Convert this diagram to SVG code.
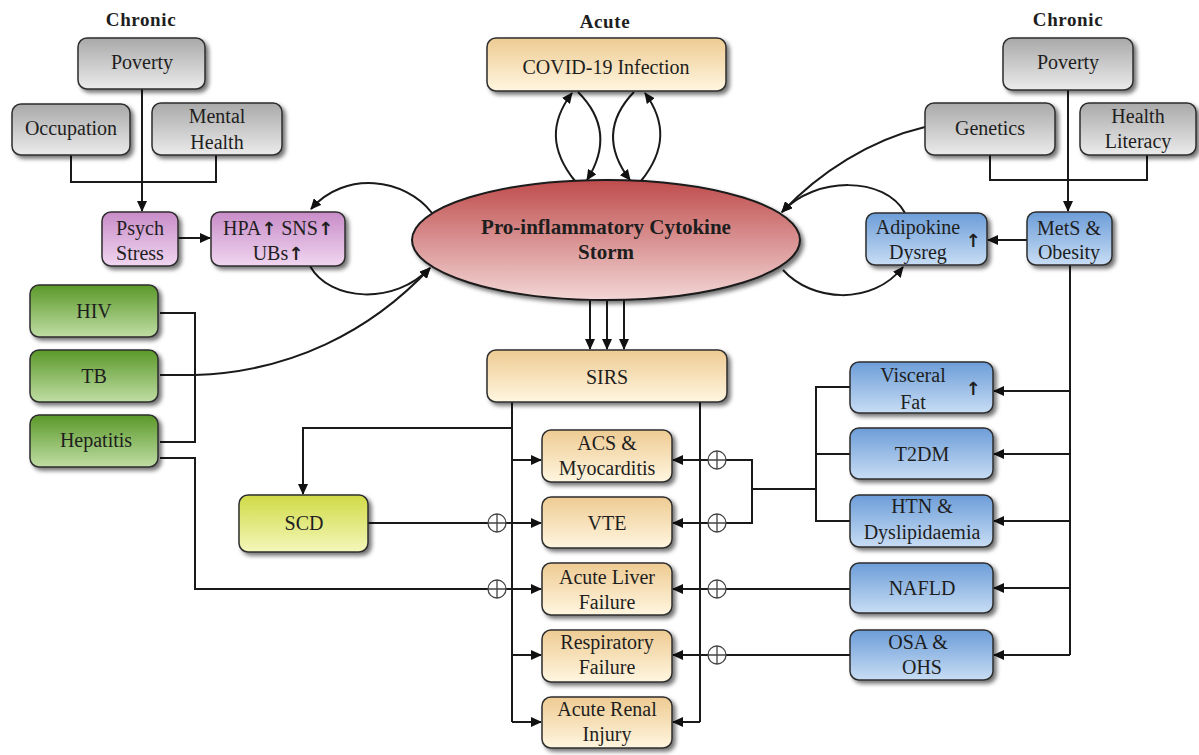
<svg xmlns="http://www.w3.org/2000/svg" width="1199" height="755" viewBox="0 0 1199 755">
<style>
text{font-family:"Liberation Serif","DejaVu Serif",serif;font-size:20px;fill:#1e1e1e;text-anchor:middle}
.up{font-family:"DejaVu Sans",sans-serif;font-weight:bold;font-size:18px}
.hd{font-weight:bold;font-size:19px;letter-spacing:0.6px}
.big{font-weight:bold;font-size:21px}
.box{stroke:#2e2e2e;stroke-width:1.5;filter:url(#sh)}
.ln{fill:none;stroke:#1a1a1a;stroke-width:2}
.ar{fill:none;stroke:#1a1a1a;stroke-width:2;marker-end:url(#ah)}
.pl{fill:#fff;stroke:#444;stroke-width:1.3}
.gray{fill:url(#gGray)}.pink{fill:url(#gPink)}.org{fill:url(#gOrg)}.blue{fill:url(#gBlue)}.grn{fill:url(#gGrn)}.yel{fill:url(#gYel)}
</style>
<defs>
<filter id="sh" x="-10%" y="-10%" width="130%" height="140%">
<feDropShadow dx="3" dy="3" stdDeviation="2" flood-color="#000" flood-opacity="0.55"/>
</filter>
<marker id="ah" markerUnits="userSpaceOnUse" markerWidth="11" markerHeight="10" refX="10" refY="5" orient="auto">
<path d="M0,0 L11,5 L0,10 z" fill="#111"/>
</marker>
<linearGradient id="gGray" x1="0" y1="0" x2="0" y2="1"><stop offset="0" stop-color="#a9a9a9"/><stop offset="1" stop-color="#ebebeb"/></linearGradient>
<linearGradient id="gPink" x1="0" y1="0" x2="0" y2="1"><stop offset="0" stop-color="#c88cc8"/><stop offset="1" stop-color="#f0d6f0"/></linearGradient>
<linearGradient id="gOrg" x1="0" y1="0" x2="0" y2="1"><stop offset="0" stop-color="#eecb92"/><stop offset="1" stop-color="#fff6e0"/></linearGradient>
<linearGradient id="gBlue" x1="0" y1="0" x2="0" y2="1"><stop offset="0" stop-color="#6c9dd8"/><stop offset="1" stop-color="#c8ddf4"/></linearGradient>
<linearGradient id="gGrn" x1="0" y1="0" x2="0" y2="1"><stop offset="0" stop-color="#5a9829"/><stop offset="1" stop-color="#c0dea4"/></linearGradient>
<linearGradient id="gYel" x1="0" y1="0" x2="0" y2="1"><stop offset="0" stop-color="#d0da46"/><stop offset="1" stop-color="#f4f7ba"/></linearGradient>
<linearGradient id="gRed" x1="0" y1="0" x2="0" y2="1"><stop offset="0" stop-color="#bf4c4c"/><stop offset="1" stop-color="#f3d6d6"/></linearGradient>
<g id="plus"><circle r="9" class="pl"/><path d="M-9,0 H9 M0,-9 V9" stroke="#444" stroke-width="1.3"/></g>
</defs>
<rect width="1199" height="755" fill="#fff"/>

<text class="hd" x="141" y="26">Chronic</text>
<text class="hd" x="605" y="28">Acute</text>
<text class="hd" x="1068" y="26">Chronic</text>

<g id="connectors">
<path class="ln" d="M71 155 V182 H216 V155"/>
<path class="ar" d="M142 89 V211"/>
<path class="ar" d="M178 238 H210"/>
<path class="ar" d="M432 213 C 405 178, 345 170, 311 209"/>
<path class="ar" d="M310 266 C 330 302, 395 305, 430 268"/>
<path class="ar" d="M160 375 H195 C 290 372, 370 332, 430 268"/>
<path class="ln" d="M160 313 H195 V442 H160"/>
<path class="ln" d="M160 458 H195 V589 H488"/>
<path class="ar" d="M575 181 C 550 150, 550 122, 572 93"/>
<path class="ar" d="M578 92 C 606 120, 606 150, 587 180"/>
<path class="ar" d="M634 92 C 607 120, 607 150, 630 180"/>
<path class="ar" d="M641 181 C 666 150, 666 122, 645 93"/>
<path class="ar" d="M590 300 V349"/>
<path class="ar" d="M607 300 V349"/>
<path class="ar" d="M624 300 V349"/>
<path class="ln" d="M512 402 V722"/>
<path class="ln" d="M700 402 V722"/>
<path class="ar" d="M512 460 H541"/>
<path class="ar" d="M506 523 H541"/>
<path class="ar" d="M506 589 H541"/>
<path class="ar" d="M512 655 H541"/>
<path class="ar" d="M512 722 H541"/>
<path class="ar" d="M708 460 H673"/>
<path class="ar" d="M708 523 H673"/>
<path class="ar" d="M708 589 H673"/>
<path class="ar" d="M708 655 H673"/>
<path class="ar" d="M700 722 H673"/>
<path class="ar" d="M512 428 H303 V494"/>
<path class="ln" d="M368 523 H488"/>
<path class="ln" d="M726 460 H752 V523 H726 M752 489 H816 M850 387 H816 V521 H850 M816 454 H850"/>
<path class="ln" d="M850 589 H726"/>
<path class="ln" d="M850 655 H726"/>
<path class="ln" d="M990 155 V180 H1147 V155"/>
<path class="ar" d="M1068 90 V211"/>
<path class="ar" d="M1027 240 H988"/>
<path class="ln" d="M1070 265 V655"/>
<path class="ar" d="M1070 391 H994"/>
<path class="ar" d="M1070 454 H994"/>
<path class="ar" d="M1070 521 H994"/>
<path class="ar" d="M1070 588 H994"/>
<path class="ar" d="M1070 655 H994"/>
<path class="ar" d="M925 127 C 870 140, 820 172, 782 212"/>
<path class="ar" d="M905 213 C 885 176, 815 176, 782 212"/>
<path class="ar" d="M783 270 C 812 302, 872 306, 903 267"/>
<use href="#plus" x="497" y="523"/>
<use href="#plus" x="497" y="589"/>
<use href="#plus" x="717" y="460"/>
<use href="#plus" x="717" y="523"/>
<use href="#plus" x="717" y="589"/>
<use href="#plus" x="717" y="655"/>
</g>

<g id="poverty-left"><rect class="box gray" x="78" y="38" width="127" height="51" rx="9"/><text x="142" y="69">Poverty</text></g>
<g id="occupation"><rect class="box gray" x="12" y="104" width="118" height="51" rx="9"/><text x="71" y="135">Occupation</text></g>
<g id="mental-health"><rect class="box gray" x="152" y="103" width="130" height="52" rx="9"/><text x="217" y="123">Mental</text><text x="217" y="149">Health</text></g>
<g id="psych-stress"><rect class="box pink" x="102" y="212" width="76" height="54" rx="9"/><text x="140" y="235">Psych</text><text x="140" y="260">Stress</text></g>
<g id="hpa"><rect class="box pink" x="211" y="212" width="134" height="54" rx="9"/><text x="278" y="235">HPA<tspan class="up">↑</tspan> SNS<tspan class="up">↑</tspan></text><text x="278" y="260">UBs<tspan class="up">↑</tspan></text></g>

<g id="covid"><rect class="box org" x="487" y="38" width="239" height="53" rx="9"/><text x="606" y="74">COVID-19 Infection</text></g>
<g id="cytokine-storm"><ellipse cx="606" cy="240" rx="194" ry="60" fill="url(#gRed)" stroke="#1a1a1a" stroke-width="2" filter="url(#sh)"/><text class="big" x="606" y="234">Pro-inflammatory Cytokine</text><text class="big" x="606" y="259">Storm</text></g>

<g id="hiv"><rect class="box grn" x="30" y="285" width="128" height="52" rx="9"/><text x="94" y="318">HIV</text></g>
<g id="tb"><rect class="box grn" x="30" y="350" width="128" height="52" rx="9"/><text x="94" y="383">TB</text></g>
<g id="hepatitis"><rect class="box grn" x="30" y="415" width="128" height="52" rx="9"/><text x="96" y="447">Hepatitis</text></g>
<g id="scd"><rect class="box yel" x="239" y="495" width="129" height="57" rx="9"/><text x="304" y="530">SCD</text></g>

<g id="sirs"><rect class="box org" x="487" y="350" width="240" height="52" rx="9"/><text x="607" y="384">SIRS</text></g>
<g id="acs"><rect class="box org" x="542" y="430" width="130" height="52" rx="9"/><text x="607" y="450">ACS &amp;</text><text x="607" y="475">Myocarditis</text></g>
<g id="vte"><rect class="box org" x="542" y="497" width="130" height="51" rx="9"/><text x="607" y="530">VTE</text></g>
<g id="alf"><rect class="box org" x="542" y="563" width="130" height="52" rx="9"/><text x="607" y="584">Acute Liver</text><text x="607" y="609">Failure</text></g>
<g id="resp"><rect class="box org" x="542" y="630" width="130" height="52" rx="9"/><text x="607" y="649">Respiratory</text><text x="607" y="674">Failure</text></g>
<g id="renal"><rect class="box org" x="542" y="697" width="130" height="51" rx="9"/><text x="607" y="716">Acute Renal</text><text x="607" y="741">Injury</text></g>

<g id="poverty-right"><rect class="box gray" x="1003" y="38" width="130" height="52" rx="9"/><text x="1068" y="69">Poverty</text></g>
<g id="genetics"><rect class="box gray" x="925" y="103" width="130" height="52" rx="9"/><text x="990" y="135">Genetics</text></g>
<g id="health-literacy"><rect class="box gray" x="1080" y="103" width="116" height="52" rx="9"/><text x="1138" y="123">Health</text><text x="1138" y="148">Literacy</text></g>
<g id="mets"><rect class="box blue" x="1027" y="212" width="85" height="53" rx="9"/><text x="1069" y="235">MetS &amp;</text><text x="1069" y="259">Obesity</text></g>
<g id="adipokine"><rect class="box blue" x="866" y="213" width="121" height="52" rx="9"/><text x="918" y="234">Adipokine</text><text x="918" y="259">Dysreg</text><text class="up" x="973" y="247">↑</text></g>

<g id="visceral"><rect class="box blue" x="850" y="362" width="143" height="51" rx="9"/><text x="913" y="382">Visceral</text><text x="913" y="409">Fat</text><text class="up" x="973" y="395">↑</text></g>
<g id="t2dm"><rect class="box blue" x="850" y="428" width="143" height="51" rx="9"/><text x="922" y="461">T2DM</text></g>
<g id="htn"><rect class="box blue" x="850" y="495" width="143" height="52" rx="9"/><text x="922" y="513">HTN &amp;</text><text x="922" y="539">Dyslipidaemia</text></g>
<g id="nafld"><rect class="box blue" x="850" y="563" width="143" height="50" rx="9"/><text x="922" y="595">NAFLD</text></g>
<g id="osa"><rect class="box blue" x="850" y="630" width="143" height="50" rx="9"/><text x="918" y="649">OSA &amp;</text><text x="922" y="674">OHS</text></g>
</svg>
